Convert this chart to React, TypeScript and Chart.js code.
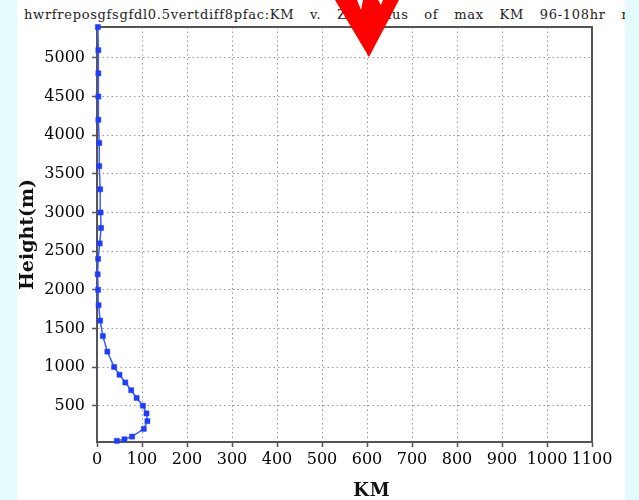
import React, { useEffect, useRef } from "react";
import { Chart, registerables } from "chart.js";

Chart.register(...registerables);

// Heights (m) of the profile levels
const heightsM = [45, 65, 100, 200, 300, 400, 500, 600, 700, 800, 900, 1000, 1200, 1400, 1600, 1800, 2000, 2200, 2400, 2600, 2800, 3000, 3300, 3600, 3900, 4200, 4500, 4800, 5100, 5400];
// KM values at each level
const kmValues = [44, 61, 78, 104, 112, 110, 102, 88, 76, 63, 50, 38, 23, 13, 7, 3.5, 2.5, 1.5, 2.5, 6, 9, 8, 7, 5, 5, 3, 3, 3, 3, 2];

const xTicks = [0, 100, 200, 300, 400, 500, 600, 700, 800, 900, 1000, 1100];
const yTicks = [500, 1000, 1500, 2000, 2500, 3000, 3500, 4000, 4500, 5000];

const titleText = "hwrfreposgfsgfdl0.5vertdiff8pfac:KM v. Z radius of max KM 96-108hr r";
const xTitle = "KM";
const yTitle = "Height(m)";

const framePlugin = {
  id: "frame",
  beforeDatasetsDraw(chart: any) {
    const { ctx, chartArea } = chart;
    const { left, top, right, bottom } = chartArea;
    ctx.save();
    ctx.strokeStyle = "#555";
    ctx.lineWidth = 2;
    ctx.beginPath();
    ctx.moveTo(left, top);
    ctx.lineTo(right, top);
    ctx.lineTo(right, bottom);
    ctx.stroke();
    ctx.restore();
  },
};

export default function App() {
  const ref = useRef<HTMLCanvasElement | null>(null);

  useEffect(() => {
    document.body.style.margin = "0";
    if (!ref.current) return;
    const tickFont = { family: "DejaVu Serif", size: 16 };
    const chart = new Chart(ref.current, {
      type: "scatter",
      data: {
        datasets: [
          {
            data: heightsM.map((h, i) => ({ x: kmValues[i], y: h })),
            showLine: true,
            borderColor: "#3a5aff",
            borderWidth: 1.5,
            backgroundColor: "#1e3cff",
            pointBackgroundColor: "#1e3cff",
            pointBorderColor: "#1e3cff",
            pointBorderWidth: 0.5,
            pointStyle: "rect",
            pointRadius: 3.6,
            clip: false,
          } as any,
        ],
      },
      options: {
        animation: false,
        responsive: false,
        events: [],
        layout: { padding: { top: 27, right: 47, left: 0, bottom: 0 } },
        plugins: {
          legend: { display: false },
          tooltip: { enabled: false },
          title: { display: false },
        },
        scales: {
          x: {
            type: "linear",
            min: 0,
            max: 1100,
            afterBuildTicks: (s: any) => {
              s.ticks = xTicks.map((v) => ({ value: v }));
            },
            afterFit: (s: any) => {
              s.height = 58;
            },
            grid: {
              color: "#999",
              lineWidth: 1,
              tickLength: 5,
              tickColor: "#555",
              tickWidth: 1.5,
              tickBorderDash: [],
            },
            border: { color: "#555", width: 2, dash: [1.5, 3] },
            ticks: {
              font: tickFont,
              color: "#000",
              padding: 3,
              maxRotation: 0,
              autoSkip: false,
              callback: (v: any) => String(v),
            },
          },
          y: {
            type: "linear",
            min: 30,
            max: 5400,
            afterBuildTicks: (s: any) => {
              s.ticks = yTicks.map((v) => ({ value: v }));
            },
            afterFit: (s: any) => {
              s.width = 97;
            },
            grid: {
              color: "#999",
              lineWidth: 1,
              tickLength: 5,
              tickColor: "#555",
              tickWidth: 1.5,
              tickBorderDash: [],
            },
            border: { color: "#555", width: 2, dash: [1.5, 3] },
            ticks: {
              font: tickFont,
              color: "#000",
              padding: 7,
              autoSkip: false,
              callback: (v: any) => String(v),
            },
            title: {
              display: true,
              text: yTitle,
              font: { family: "DejaVu Serif", size: 19, weight: "bold" },
              color: "#111",
              padding: { top: 17, bottom: 0 },
            },
          },
        },
      } as any,
      plugins: [framePlugin],
    });
    return () => chart.destroy();
  }, []);

  return (
    <div style={{ position: "absolute", left: 0, top: 0, width: 639, height: 500, background: "#fff", overflow: "hidden" }}>
      <div
        style={{
          position: "absolute",
          left: 24,
          top: 7,
          fontFamily: "DejaVu Serif",
          fontSize: 13,
          letterSpacing: "0.7px",
          wordSpacing: "11px",
          whiteSpace: "pre",
          color: "#222",
          lineHeight: "16px",
        }}
      >
        {titleText}
      </div>
      <canvas ref={ref} width={639} height={500} style={{ position: "absolute", left: 0, top: 0, width: 639, height: 500 }} />
      <div
        style={{
          position: "absolute",
          left: 322,
          top: 478,
          width: 100,
          textAlign: "center",
          fontFamily: "DejaVu Serif",
          fontWeight: "bold",
          fontSize: 18,
          letterSpacing: "1px",
          lineHeight: "24px",
          color: "#111",
        }}
      >
        {xTitle}
      </div>
      <div style={{ position: "absolute", left: 0, top: 0, width: 17, height: 500, background: "#e4fbfb" }} />
      <div style={{ position: "absolute", left: 625, top: 0, width: 14, height: 500, background: "#e4fbfb" }} />
      <svg width={639} height={500} style={{ position: "absolute", left: 0, top: 0, pointerEvents: "none" }}>
        <polygon points="335,0 399,0 369,57" fill="#ff0000" />
        <polygon points="357,0 363,0 361,10" fill="#ffffff" />
        <polygon points="378,0 383,0 381,5" fill="#ffffff" />
      </svg>
    </div>
  );
}
